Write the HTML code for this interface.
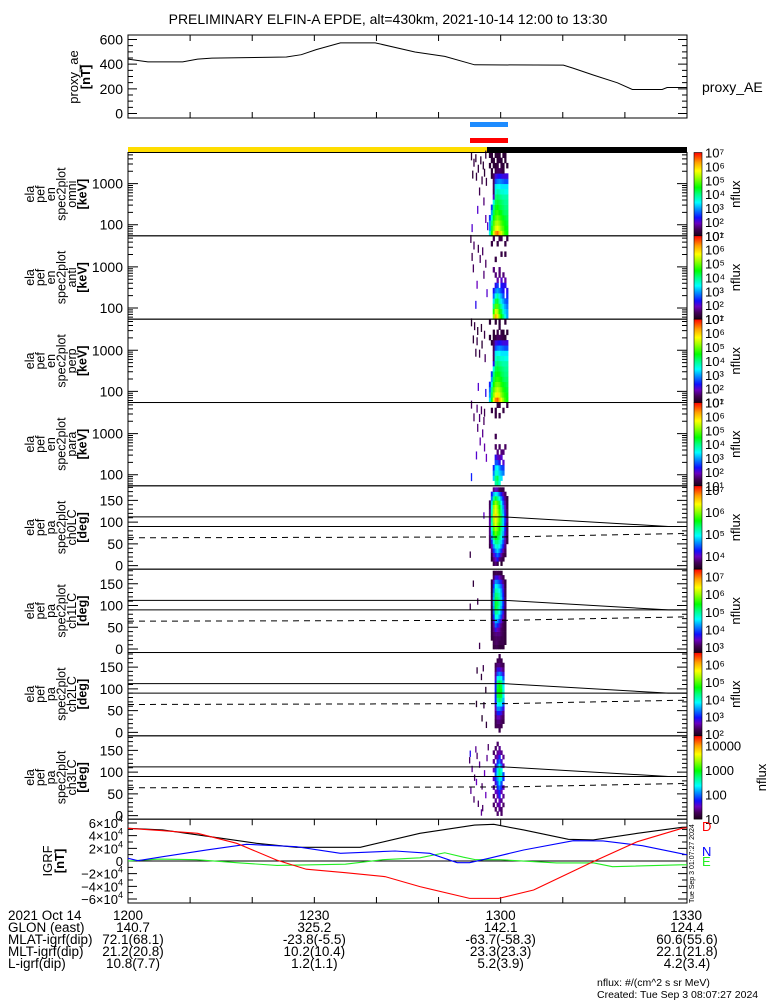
<!DOCTYPE html>
<html><head><meta charset="utf-8"><title>ELFIN-A EPDE</title>
<style>
html,body{margin:0;padding:0;background:#fff;}
svg{display:block;font-family:"Liberation Sans",sans-serif;}
text{fill:#000;}
</style></head>
<body>
<svg id="fig" width="775" height="1000" viewBox="0 0 775 1000" xmlns="http://www.w3.org/2000/svg">
<defs>
<linearGradient id="cmap" x1="0" y1="1" x2="0" y2="0">
<stop offset="0" stop-color="#1a001a"/><stop offset="0.08" stop-color="#45005a"/><stop offset="0.15" stop-color="#6a00c0"/>
<stop offset="0.22" stop-color="#1010ff"/><stop offset="0.33" stop-color="#00a0ff"/><stop offset="0.4" stop-color="#00ffff"/>
<stop offset="0.5" stop-color="#00ff80"/><stop offset="0.58" stop-color="#00ff00"/><stop offset="0.7" stop-color="#a0ff00"/>
<stop offset="0.78" stop-color="#ffff00"/><stop offset="0.88" stop-color="#ffa000"/><stop offset="1" stop-color="#ff0000"/>
</linearGradient>
</defs>
<text x="388" y="24" font-size="14" text-anchor="middle">PRELIMINARY ELFIN-A EPDE, alt=430km, 2021-10-14 12:00 to 13:30</text>
</svg>
<script>
// ---------- data ----------
const aeTimes = [0,3.2,8.8,11.2,13.5,25.5,27.9,30.3,34.2,39.8,46.2,51,55.8,70.1,71.7,74.9,78.8,81.2,86,86.8,90];
const aeValues = [441,419,419,441,449,458,477,518,573,573,499,463,395,392,367,312,249,195,195,211,211];

const igrfTimes = [0,5.6,15.1,20.7,27.1,37.4,47,55.8,58.9,63.7,70.9,74.9,82,89.2,90];
const igrfTotal = [51600,49000,35800,27900,21600,21600,43700,56800,57900,49000,34200,33200,43700,53200,53500];
const igrfDTimes = [0,5.6,11.2,17.5,23.9,28.7,35,41.4,47,55,59.7,65.3,74.9,82,89.2,90];
const igrfD = [51600,47900,43700,27900,1600,-13000,-18400,-24700,-40500,-59000,-59000,-45800,-1000,30500,51600,52500];
const igrfNTimes = [0,1.6,5.6,12.7,19.1,27.1,34.2,43,48.6,53,55,58.1,63.7,71.7,76.5,82.8,89.6,90];
const igrfN = [4200,500,6800,17400,26300,22600,12100,15800,12100,-2600,-2600,4200,17400,32100,31600,24200,10500,10000];
const igrfETimes = [0,5,11,18,24,35,41,47,51,54,56,60,69,75,78,89,90];
const igrfE = [0,3000,2000,-3000,-7000,-5000,2000,5000,13000,6000,2000,2000,-3000,-3000,-9000,-6000,-6000];

const lcTimes = [0,60.5,87,90];
const lcUpper = [112,112,90,90];
const lcLower = [90,90,90,90];
const lcDashTimes = [0,61,75,90];
const lcDash = [64,66,70,74];

const specColStart = 58.1;
const specColWidth = 0.31;
// energy grids: rows low->high energy (16 bins), 10 time columns, log10 nflux (0 = no data)
const omniGrid = [
[3.5,4.5,5.5,6.3,6.5,6,5.5,5,4.6,4.5],[3,4.3,5,5.5,5.7,5.4,5,4.8,4.5,4.4],[3,4,4.8,5.2,5.3,5.1,4.8,4.6,4.4,4.3],
[2.5,3.5,4.5,4.8,5,4.8,4.6,4.4,4.3,4.2],[0,3,4.2,4.6,4.7,4.5,4.4,4.2,4.1,4.1],[0,2.5,4,4.4,4.5,4.3,4.2,4.1,4,4],
[0,0,3.5,4.2,4.3,4.2,4.1,4,3.9,3.9],[0,0,2,4,4.1,4,3.9,3.8,3.8,3.8],[0,0,1.5,3.6,3.8,3.7,3.6,3.6,3.5,3.5],
[0,0,1.5,3.3,3.5,3.4,3.3,3.3,3.3,3.3],[0,0,1.5,2.6,2.8,2.9,2.8,2.7,2.6,2.6],[0,1.2,1.5,2.1,2.2,2.3,2.2,2.1,2.1,2.1],
[0,1.2,0,1.3,1.5,1.5,1.4,1.3,0,0],[1.2,0,1.2,1.2,1.3,0,1.3,1.2,0,1.2],[0,1.2,1.2,0,1.2,1.3,1.2,0,1.2,0],[1.2,1.2,0,1.2,1.2,1.2,0,1.2,1.2,0]];
const antiGrid = [
[0,0,5.2,6.2,5.8,5.0,4.5,4.0,3.5,3.0],[0,0,4.6,5.5,5.3,4.6,4.2,3.6,3.2,3.0],[0,0,4.0,4.8,4.8,4.2,3.8,3.3,3.0,2.8],
[0,0,3.3,4.2,4.3,3.8,3.3,3.0,2.7,2.6],[0,0,2.7,3.5,3.8,3.3,3.0,2.6,0,2.4],[0,0,2.3,2.8,3.0,2.8,2.5,2.3,0,2.2],
[0,0,0,2.2,2.5,0,2.3,2.2,2.2,0],[0,0,0,0,1.8,0,2.0,0,1.8,0],[0,0,0,1.6,0,1.6,0,1.6,0,0],[0,0,1.6,0,0,1.6,0,0,0,0],
[0,0,0,0,0,0,0,0,0,0],[0,0,0,1.3,0,0,0,0,0,0],[0,0,0,0,0,0,1.3,0,1.3,0],[0,0,0,0,0,0,0,0,0,0],
[0,1.3,0,0,1.3,0,0,0,1.3,0],[0,0,1.4,0,0,1.4,1.4,0,0,1.3]];
const perpGrid = [
[3.3,4.4,5.6,6.4,6.6,6.1,5.6,5.1,4.7,4.5],[3,4.2,5.1,5.6,5.8,5.5,5.1,4.8,4.6,4.4],[2.8,4,4.8,5.2,5.4,5.2,4.9,4.6,4.4,4.3],
[2.4,3.5,4.5,4.9,5,4.9,4.6,4.4,4.3,4.2],[0,3,4.2,4.6,4.7,4.6,4.4,4.2,4.1,4.1],[0,2.5,4,4.4,4.5,4.4,4.2,4.1,4,4],
[0,0,3.5,4.2,4.3,4.2,4.1,4,3.9,3.9],[0,0,2.2,4,4.1,4,3.9,3.8,3.8,3.8],[0,0,1.5,3.6,3.8,3.7,3.6,3.6,3.5,3.5],
[0,0,1.5,3.3,3.5,3.4,3.3,3.3,3.3,3.3],[0,0,1.5,2.6,2.8,2.9,2.8,2.7,2.6,2.6],[0,1.2,1.5,2.1,2.2,2.3,2.2,2.1,2.1,2.1],
[1.2,0,1.2,1.3,1.5,1.5,1.4,1.3,1.2,0],[0,0,1.2,0,1.3,0,1.3,1.2,0,1.2],[0,0,0,0,0,1.3,0,0,0,0],[1.2,0,0,1.2,0,1.2,0,0,1.2,0]];
const paraGrid = [
[0,0,0,3.8,4.0,3.6,0,0,0,0],[0,0,3.2,4.0,4.2,3.6,3.3,0,0,0],[0,0,2.8,3.6,3.6,3.2,3.0,2.8,0,0],
[0,0,2.4,3.3,3.4,3.0,2.6,2.5,0,0],[0,0,0,2.6,2.6,2.2,0,2.0,0,0],[0,0,0,2.2,2.0,1.8,2.0,0,0,0],
[0,0,0,0,1.6,0,1.6,1.6,0,0],[0,0,0,1.5,0,1.5,0,0,1.5,0],[0,0,0,0,0,0,0,0,0,0],[0,0,0,1.4,0,0,0,0,0,0],
[0,0,0,0,0,0,0,0,0,0],[0,0,0,0,0,0,0,0,0,0],[0,0,0,0,0,0,0,0,0,0],[0,0,0,1.3,0,1.3,0,0,0,0],
[0,1.3,0,1.3,0,0,0,1.3,0,0],[0,0,0,0,1.3,1.3,0,0,0,1.3]];
// pitch-angle grids: rows 0..180 deg in 10 deg bins, 10 time columns
const ch0Grid = [
[0,0,3.6,3.8,3.6,0,3.5,0,0,0],[0,3.5,3.8,4.0,4.2,3.8,3.7,3.6,0,0],[0,3.6,4.0,4.3,4.5,4.3,3.9,3.7,3.6,0],
[0,3.8,4.3,4.6,4.8,4.6,4.3,3.9,3.7,0],[3.6,4.0,4.6,5.0,5.1,4.9,4.6,4.2,3.8,0],[3.7,4.3,5.0,5.3,5.3,5.1,4.8,4.4,3.9,3.6],
[3.7,4.6,5.3,5.6,5.5,5.3,5.0,4.6,4.0,3.6],[3.8,4.8,5.6,5.9,5.7,5.5,5.1,4.7,4.1,3.7],[3.8,5.0,5.8,6.1,5.9,5.6,5.2,4.8,4.2,3.7],
[3.9,5.1,6.0,6.3,6.0,5.7,5.3,4.8,4.2,3.7],[3.9,5.2,6.1,6.4,6.1,5.8,5.3,4.8,4.3,3.8],[3.8,5.2,6.2,6.5,6.2,5.8,5.3,4.8,4.2,3.7],
[3.8,5.1,6.1,6.4,6.1,5.7,5.2,4.7,4.1,3.7],[3.7,5.0,6.0,6.3,6.0,5.6,5.1,4.6,4.0,3.6],[3.7,4.8,5.7,6.0,5.8,5.4,4.9,4.4,3.9,3.6],
[0,4.5,5.2,5.5,5.3,5.0,4.6,4.2,3.8,3.6],[0,4.2,4.7,5.0,4.8,4.5,4.2,3.9,3.7,0],[0,0,3.8,4.0,3.9,3.7,3.6,3.6,0,0]];
const ch1Grid = [
[0,0,2.9,3.0,3.0,2.9,2.9,2.9,0,0],[0,0,3.0,3.1,3.1,3.0,3.0,3.0,2.9,0],[0,2.9,3.0,3.1,3.1,3.1,3.0,3.0,2.9,0],
[0,2.9,3.1,3.2,3.2,3.2,3.1,3.0,2.9,0],[0,2.9,3.2,3.6,3.4,3.3,3.1,3.0,2.9,0],[0,2.9,3.3,4.0,3.8,3.5,3.2,3.0,2.9,0],
[0,2.9,3.5,4.3,4.2,3.9,3.5,3.1,2.9,0],[0,2.9,3.8,4.7,4.6,4.3,3.9,3.4,3.0,0],[0,2.9,4.0,5.0,4.9,4.6,4.1,3.6,3.0,0],
[0,2.9,4.2,5.3,5.1,4.8,4.3,3.7,3.1,0],[0,3.0,4.3,5.3,5.2,4.9,4.4,3.8,3.1,0],[0,3.0,4.3,5.2,5.1,4.9,4.4,3.8,3.1,0],
[0,2.9,4.2,5.1,5.0,4.8,4.3,3.7,3.0,0],[0,2.9,4.0,4.9,4.8,4.6,4.2,3.6,3.0,0],[0,2.9,3.8,4.6,4.5,4.3,4.0,3.5,2.9,0],
[0,2.9,3.5,4.2,4.1,3.9,3.6,3.2,2.9,0],[0,0,3.1,3.6,3.6,3.4,3.2,3.0,0,0],[0,0,2.9,3.0,3.0,3.0,2.9,0,0,0]];
const ch2Grid = [
[0,0,0,0,0,2.2,0,0,0,0],[0,0,0,2.2,2.3,2.3,2.2,0,0,0],[0,0,0,2.2,2.4,2.4,2.3,2.2,0,0],
[0,0,0,2.3,2.6,2.6,2.4,2.3,0,0],[0,0,0,2.4,3.0,3.0,2.8,2.4,0,0],[0,0,0,2.6,3.4,3.4,3.2,2.8,0,0],
[0,0,0,2.8,3.8,4.0,3.8,3.2,0,0],[0,0,0,3.0,4.2,4.4,4.2,3.6,0,0],[0,0,0,3.0,4.5,4.6,4.5,3.8,0,0],
[0,0,0,3.0,4.6,4.7,4.6,3.9,0,0],[0,0,0,3.0,4.5,4.7,4.5,3.8,0,0],[0,0,0,2.9,4.3,4.5,4.3,3.6,0,0],
[0,0,0,2.7,3.8,4.0,3.8,3.2,0,0],[0,0,0,2.5,3.2,3.4,3.2,2.8,0,0],[0,0,0,2.3,2.8,2.8,2.6,2.4,0,0],
[0,0,0,2.2,2.4,2.4,2.3,2.2,0,0],[0,0,0,0,2.2,2.3,2.2,0,0,0],[0,0,0,0,0,2.2,0,0,0,0]];
const ch3Grid = [
[0,0,0,0,1.3,0,1.3,0,0,0],[0,0,0,1.3,0,1.4,1.3,0,0,0],[0,0,1.3,0,1.4,1.5,0,1.3,0,0],
[0,0,0,1.4,0,1.5,1.4,0,0,0],[0,0,1.3,0,1.5,1.8,0,1.4,0,0],[0,0,0,1.5,1.6,1.8,1.5,0,0,0],
[0,0,1.4,0,1.8,2.0,1.8,1.5,0,0],[0,0,0,1.6,1.9,2.3,1.9,0,0,0],[0,0,1.5,1.8,2.1,2.5,2.3,1.8,0,0],
[0,0,0,1.9,2.3,2.7,2.5,1.9,0,0],[0,0,1.5,1.8,2.3,2.7,2.4,0,0,0],[0,0,0,1.6,2.0,2.4,2.0,1.5,0,0],
[0,0,1.4,0,1.8,2.0,1.6,0,0,0],[0,0,0,1.4,1.5,1.8,0,1.4,0,0],[0,0,1.3,0,1.4,1.5,1.4,0,0,0],
[0,0,0,1.3,0,1.4,0,0,0,0],[0,0,0,0,1.3,0,0,0,0,0],[0,0,0,0,0,0,0,0,0,0]];
// scattered specks: [time (min), energy keV or pitch deg, log10 nflux]
const omniSpecks = [[55.2,5000,1.2],[55.6,3500,1.3],[55.9,4500,1.2],[56.3,2500,1.3],[56.7,4000,1.2],[57.1,3000,1.2],[57.5,5500,1.3],[57.3,2000,1.2],[56.0,1600,1.3],[55.4,1800,1.2],[56.9,1300,1.3],[57.6,1200,1.3],[56.5,700,1.4],[57.2,400,1.6],[56.2,250,2.0],[57.5,150,1.8],[55.3,90,2.0],[57.8,100,2.0]];
const antiSpecks = [[55.1,5200,1.4],[55.6,3600,1.5],[56.3,3000,1.4],[57.0,2600,1.5],[55.3,1900,1.4],[56.6,1700,1.5],[57.5,1300,1.5],[55.5,1000,1.5],[57.2,700,1.6],[56.1,400,1.9],[55.9,130,2.2],[57.7,250,2.0]];
const perpSpecks = [[55.2,5200,1.2],[55.7,4200,1.3],[56.2,3200,1.2],[56.8,3800,1.2],[57.3,2600,1.3],[55.5,2000,1.2],[56.1,1800,1.3],[56.9,1500,1.2],[55.9,950,1.3],[56.5,900,1.3],[57.4,700,1.5],[56.3,140,2.0],[57.5,100,2.2]];
const paraSpecks = [[55.2,5500,1.5],[56.1,4400,1.6],[56.8,4000,1.5],[57.3,3500,1.4],[55.6,2700,1.5],[56.5,2600,1.6],[57.2,2200,1.5],[56.2,1500,1.6],[57.0,1100,1.7],[56.6,700,1.8],[57.3,500,1.8],[56.0,320,2.0],[57.6,280,1.9],[55.2,95,2.4]];
const ch0Specks = [[57.2,118,4.0],[55.0,28,3.6]];
const ch1Specks = [[55.5,153,2.9],[55.0,100,3.0],[56.2,112,3.0],[56.5,10,3.0]];
const ch2Specks = [[56.1,145,2.1],[57.1,150,2.2],[56.8,130,2.1],[57.5,100,2.0],[56.0,68,2.0],[57.2,65,2.1],[56.9,35,2.0],[57.6,20,2.1]];
const ch3Specks = [[54.9,130,1.3],[55.3,110,1.4],[55.7,90,1.3],[56.1,140,1.3],[56.5,120,1.4],[56.9,70,1.3],[57.3,100,1.5],[55.1,60,1.4],[55.6,40,1.3],[56.3,30,1.3],[56.8,10,1.4],[57.5,50,1.5],[55.9,155,1.4],[57.7,135,1.4],[55.0,145,1.7],[56.0,80,1.5],[57.0,20,1.3],[57.9,160,1.3]];

// ---------- geometry ----------
const NS = 'http://www.w3.org/2000/svg';
const svg = document.getElementById('fig');
const X0 = 128, X1 = 687, TMAX = 90;
function xs(t){ return X0 + (t / TMAX) * (X1 - X0); }
function mk(tag, attrs, parent){ const e = document.createElementNS(NS, tag); for (const k in attrs) e.setAttribute(k, attrs[k]); (parent || svg).appendChild(e); return e; }
const PH = 83.33;
const panelTops = [152.5, 235.8, 319.2, 402.5, 485.8, 569.2, 652.5, 735.8];
const LOGE_MIN = 1.73, LOGE_MAX = 3.756, PA_MIN = -8, PA_MAX = 183.5;
function yE(top, e){ return top + (LOGE_MAX - Math.log10(e)) / (LOGE_MAX - LOGE_MIN) * PH; }
function yPA(top, v){ return top + (PA_MAX - v) / (PA_MAX - PA_MIN) * PH; }

const cstops = [[0,[26,0,26]],[0.08,[69,0,90]],[0.15,[106,0,192]],[0.22,[16,16,255]],[0.33,[0,160,255]],[0.4,[0,255,255]],[0.5,[0,255,128]],[0.58,[0,255,0]],[0.7,[160,255,0]],[0.78,[255,255,0]],[0.88,[255,160,0]],[1,[255,0,0]]];
function cmap(f){ f = Math.max(0, Math.min(1, f)); for (let i = 1; i < cstops.length; i++){ if (f <= cstops[i][0]){ const a = cstops[i-1], b = cstops[i]; const u = (f - a[0]) / (b[0] - a[0]); const c = a[1].map((v, k) => Math.round(v + (b[1][k] - v) * u)); return 'rgb(' + c.join(',') + ')'; } } return 'rgb(255,0,0)'; }

// ---------- top proxy AE panel ----------
const AE_TOP = 35, AE_BOT = 118;
function yAE(v){ return 113.5 - v * 0.1233; }
const aeFrame = mk('rect', {x: X0, y: AE_TOP, width: X1 - X0, height: AE_BOT - AE_TOP, fill: 'none', stroke: '#000', 'stroke-width': 1});


for (let v = 0; v <= 650; v += 50){ const y = yAE(v); if (y < AE_TOP) break; const L = v % 200 === 0 ? 9 : 5;
  const tk = mk('path', {d: `M${X0},${y}h${L}M${X1},${y}h${-L}`, stroke: '#000', 'stroke-width': 1});
  
  
  if (v % 200 === 0){ const tl = mk('text', {x: 123, y: y + 5, 'font-size': 14, 'text-anchor': 'end'}); tl.textContent = v;
    
     } }
for (let t = 10; t < 90; t += 10){ const x = xs(t);
  const tk = mk('path', {d: `M${x},${AE_BOT}v-6M${x},${AE_TOP}v6`, stroke: '#000', 'stroke-width': 1});
  
   }
const aeLine = mk('polyline', {points: aeTimes.map((t, i) => xs(t) + ',' + yAE(aeValues[i])).join(' '), fill: 'none', stroke: '#000', 'stroke-width': 1});


const aeLbl = mk('text', {x: 702, y: 92, 'font-size': 14}); aeLbl.textContent = 'proxy_AE';


const aeYl = mk('text', {transform: 'translate(78,77) rotate(-90)', 'font-size': 13, 'text-anchor': 'middle'}); aeYl.textContent = 'proxy_ae';


const aeYu = mk('text', {transform: 'translate(90,77) rotate(-90)', 'font-size': 13, 'font-weight': 'bold', 'text-anchor': 'middle'}); aeYu.textContent = '[nT]';



// ---------- status bars ----------
const sbBlue = mk('rect', {x: 470, y: 122, width: 38, height: 5, fill: '#1e8cff'});


const sbRed = mk('rect', {x: 470, y: 138, width: 38, height: 5, fill: '#ff0000'});


const sbYel = mk('rect', {x: X0, y: 147, width: 487 - X0, height: 5.5, fill: '#ffdd00'});


const sbBlk = mk('rect', {x: 487, y: 147, width: X1 - 487, height: 5.5, fill: '#000'});



// ---------- spectrogram panels ----------
const panels = [
 {type: 'E', grid: omniGrid, specks: omniSpecks, lbl: ['ela','pef','en','spec2plot','omni','[keV]'], cmin: 1, cmax: 7, name: 'omni'},
 {type: 'E', grid: antiGrid, specks: antiSpecks, lbl: ['ela','pef','en','spec2plot','anti','[keV]'], cmin: 1, cmax: 7, name: 'anti'},
 {type: 'E', grid: perpGrid, specks: perpSpecks, lbl: ['ela','pef','en','spec2plot','perp','[keV]'], cmin: 1, cmax: 7, name: 'perp'},
 {type: 'E', grid: paraGrid, specks: paraSpecks, lbl: ['ela','pef','en','spec2plot','para','[keV]'], cmin: 1, cmax: 7, name: 'para'},
 {type: 'P', grid: ch0Grid, specks: ch0Specks, lbl: ['ela','pef','pa','spec2plot','ch0LC','[deg]'], cmin: 3.4, cmax: 7.2, name: 'ch0'},
 {type: 'P', grid: ch1Grid, specks: ch1Specks, lbl: ['ela','pef','pa','spec2plot','ch1LC','[deg]'], cmin: 2.7, cmax: 7.4, name: 'ch1'},
 {type: 'P', grid: ch2Grid, specks: ch2Specks, lbl: ['ela','pef','pa','spec2plot','ch2LC','[deg]'], cmin: 1.9, cmax: 6.7, name: 'ch2'},
 {type: 'P', grid: ch3Grid, specks: ch3Specks, lbl: ['ela','pef','pa','spec2plot','ch3LC','[deg]'], cmin: 1.0, cmax: 4.4, name: 'ch3'}
];
const supers = {'1':'¹','2':'²','3':'³','4':'⁴','5':'⁵','6':'⁶','7':'⁷'};
panels.forEach((p, pi) => {
  const top = panelTops[pi], bot = top + PH;
  const g = mk('g', {});
  
  
  const nrows = p.grid.length;
  const rowY = (r, frac) => p.type === 'E'
    ? yE(top, Math.pow(10, LOGE_MIN + (r + frac) * (LOGE_MAX - LOGE_MIN) / nrows))
    : yPA(top, (r + frac) * 10);
  p.grid.forEach((row, r) => row.forEach((v, c) => {
    if (!v) return;
    const x = xs(specColStart + c * specColWidth), x2 = xs(specColStart + (c + 1) * specColWidth);
    const y1 = rowY(r, 1), y2 = rowY(r, 0);
    const cell = mk('rect', {x: x, y: y1, width: x2 - x + 0.3, height: y2 - y1 + 0.3, fill: cmap((v - p.cmin) / (p.cmax - p.cmin))}, g);
    
    
  }));
  p.specks.forEach(s => {
    const yc = p.type === 'E' ? yE(top, s[1]) : yPA(top, s[1]);
    const h = p.type === 'E' ? 5 : 4;
    const sp = mk('rect', {x: xs(s[0]), y: yc - h / 2, width: 1.3, height: h * 1.6, fill: cmap((s[2] - p.cmin) / (p.cmax - p.cmin))}, g);
    
    
  });
  if (p.type === 'P'){
    const up = mk('polyline', {points: lcTimes.map((t, i) => xs(t) + ',' + yPA(top, lcUpper[i])).join(' '), fill: 'none', stroke: '#000', 'stroke-width': 1}, g);
    
    
    const lo = mk('polyline', {points: lcTimes.map((t, i) => xs(t) + ',' + yPA(top, lcLower[i])).join(' '), fill: 'none', stroke: '#000', 'stroke-width': 1}, g);
    
    
    const da = mk('polyline', {points: lcDashTimes.map((t, i) => xs(t) + ',' + yPA(top, lcDash[i])).join(' '), fill: 'none', stroke: '#000', 'stroke-width': 1, 'stroke-dasharray': '6,5'}, g);
    
    
  }
  const fr = mk('rect', {x: X0, y: top, width: X1 - X0, height: PH, fill: 'none', stroke: '#000', 'stroke-width': 1}, g);
  
  
  let ticks = [];
  if (p.type === 'E'){ [60,70,80,90,100,200,300,400,500,600,700,800,900,1000,2000,3000,4000,5000].forEach(e => ticks.push([yE(top, e), (e === 100 || e === 1000) ? 10 : 5, (e === 100 || e === 1000) ? String(e) : null])); }
  else { for (let v = 0; v <= 180; v += 10) ticks.push([yPA(top, v), v % 50 === 0 ? 10 : 5, v % 50 === 0 ? String(v) : null]); }
  ticks.forEach(tk => {
    const tm = mk('path', {d: `M${X0},${tk[0]}h${tk[1]}M${X1},${tk[0]}h${-tk[1]}`, stroke: '#000', 'stroke-width': 1}, g);
    
    
    if (tk[2]){ const tl = mk('text', {x: 123, y: tk[0] + 5, 'font-size': 14, 'text-anchor': 'end'}, g); tl.textContent = tk[2];
      
       }
  });
  const cy = top + PH / 2;
  p.lbl.forEach((s, i) => {
    const t = mk('text', {transform: `translate(${34 + i * 10.5},${cy}) rotate(-90)`, 'font-size': 12.5, 'text-anchor': 'middle', 'font-weight': i === 5 ? 'bold' : 'normal'}, g);
    t.textContent = s;
    
    
  });
  const cb = mk('rect', {x: 694, y: top, width: 8, height: PH, fill: 'url(#cmap)', stroke: '#000', 'stroke-width': 0.6}, g);
  
  
  for (let n = Math.ceil(p.cmin); n <= Math.floor(p.cmax); n++){
    const y = top + (p.cmax - n) / (p.cmax - p.cmin) * PH;
    const cl = mk('text', {x: 705, y: y + 5, 'font-size': 13}, g);
    cl.textContent = p.name === 'ch3' ? String(Math.pow(10, n)) : '10' + supers[String(n)];
    
    
  }
  const nf = mk('text', {transform: `translate(${p.name === 'ch3' ? 766 : 740},${cy}) rotate(-90)`, 'font-size': 13, 'text-anchor': 'middle'}, g);
  nf.textContent = 'nflux';
  
  
});

// ---------- IGRF panel ----------
const IG_TOP = 819.2, IG_BOT = 903;
function yIG(v){ return 861 - v / 60000 * 38; }
const igFrame = mk('rect', {x: X0, y: IG_TOP, width: X1 - X0, height: IG_BOT - IG_TOP, fill: 'none', stroke: '#000', 'stroke-width': 1});


const zl = mk('line', {x1: X0, x2: X1, y1: yIG(0), y2: yIG(0), stroke: '#000', 'stroke-width': 1});


for (let v = -60000; v <= 60000; v += 10000){ const y = yIG(v); const major = v % 20000 === 0; const L = major ? 9 : 5;
  const tk = mk('path', {d: `M${X0},${y}h${L}M${X1},${y}h${-L}`, stroke: '#000', 'stroke-width': 1});
  
  
  if (major){ const tl = mk('text', {x: 123, y: y + 5, 'font-size': 13, 'text-anchor': 'end'});
    if (v === 0) tl.textContent = '0'; else tl.innerHTML = (v < 0 ? '−' : '') + Math.abs(v / 10000) + '×10<tspan font-size="9" dy="-6">4</tspan>';
    
     } }
for (let t = 10; t < 90; t += 10){ const x = xs(t);
  const tk = mk('path', {d: `M${x},${IG_BOT}v-6M${x},${IG_TOP}v6`, stroke: '#000', 'stroke-width': 1});
  
   }
function igLine(ts, vs, col){ return mk('polyline', {points: ts.map((t, i) => xs(t) + ',' + yIG(vs[i])).join(' '), fill: 'none', stroke: col, 'stroke-width': 1.1}); }
const igT = igLine(igrfTimes, igrfTotal, '#000');


const igE = igLine(igrfETimes, igrfE, '#22ee22');


const igN = igLine(igrfNTimes, igrfN, '#0000ff');


const igD = igLine(igrfDTimes, igrfD, '#ff0000');


[['D', '#ff0000', 831], ['N', '#0000ff', 856], ['E', '#22ee22', 866]].forEach(a => {
  const t = mk('text', {x: 702, y: a[2], 'font-size': 13, fill: a[1]}); t.textContent = a[0]; t.style.fill = a[1];
  
  
});
const igY1 = mk('text', {transform: 'translate(52,861) rotate(-90)', 'font-size': 13, 'text-anchor': 'middle'}); igY1.textContent = 'IGRF';


const igY2 = mk('text', {transform: 'translate(64,861) rotate(-90)', 'font-size': 13, 'text-anchor': 'middle', 'font-weight': 'bold'}); igY2.textContent = '[nT]';


const stamp = mk('text', {transform: 'translate(694,903) rotate(-90)', 'font-size': 7}); stamp.textContent = 'Tue Sep  3 01:07:27 2024';



// ---------- footer ephemeris ----------
const footLabels = ['2021 Oct 14', 'GLON (east)', 'MLAT-igrf(dip)', 'MLT-igrf(dip)', 'L-igrf(dip)'];
const footTimes = [0, 30, 60, 90];
const footCols = [['1200','1230','1300','1330'], ['140.7','325.2','142.1','124.4'], ['72.1(68.1)','-23.8(-5.5)','-63.7(-58.3)','60.6(55.6)'], ['21.2(20.8)','10.2(10.4)','23.3(23.3)','22.1(21.8)'], ['10.8(7.7)','1.2(1.1)','5.2(3.9)','4.2(3.4)']];
const footY = [920, 932, 944, 956, 968];
footLabels.forEach((s, r) => {
  const t = mk('text', {x: 8, y: footY[r], 'font-size': 13.5}); t.textContent = s;
  
  
  footCols[r].forEach((v, c) => {
    const tv = mk('text', {x: xs(footTimes[c]) + (c === 0 && r > 0 ? 5 : 0), y: footY[r], 'font-size': 13.5, 'text-anchor': 'middle'}); tv.textContent = v;
    
    
  });
});
const n1 = mk('text', {x: 597, y: 986, 'font-size': 10.5}); n1.textContent = 'nflux: #/(cm^2 s sr MeV)';


const n2 = mk('text', {x: 597, y: 998, 'font-size': 10.5}); n2.textContent = 'Created: Tue Sep  3 08:07:27 2024';


</script>
</body></html>
